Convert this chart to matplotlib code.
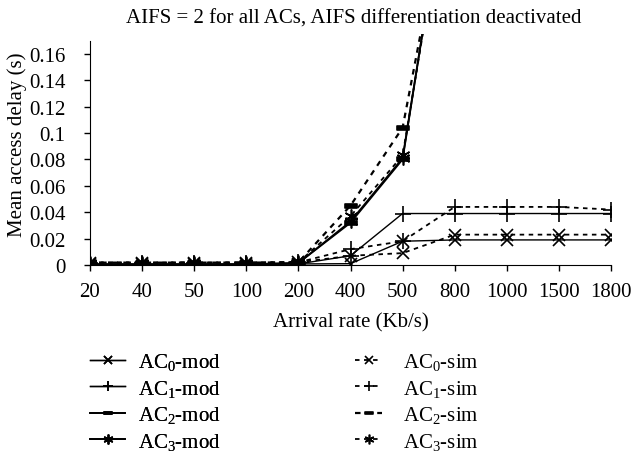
import numpy as np
import matplotlib
matplotlib.use("Agg")
import matplotlib.pyplot as plt
from matplotlib.path import Path

plt.rcParams['font.family'] = ['Liberation Serif', 'DejaVu Serif']
plt.rcParams['mathtext.fontset'] = 'custom'
plt.rcParams['mathtext.rm'] = 'Liberation Serif'
plt.rcParams['mathtext.it'] = 'Liberation Serif:italic'

# Arrival rates (categorical x axis)
rates = ['20', '40', '50', '100', '200', '400', '500', '800', '1000', '1500', '1800']

nan = np.nan
# model curves
ac0_mod = [0.0005, 0.0005, 0.0005, 0.0005, 0.0008, 0.001, 0.018, 0.019, 0.019, 0.019, 0.019]
ac1_mod = [0.0005, 0.0005, 0.0005, 0.0005, 0.0008, 0.007, 0.039, 0.039, 0.039, 0.039, 0.039]
ac2_mod = [0.0005, 0.0005, 0.0005, 0.0005, 0.0015, 0.032, 0.080, 0.33, nan, nan, nan]
ac3_mod = [0.0005, 0.0005, 0.0005, 0.0005, 0.0015, 0.033, 0.081, 0.33, nan, nan, nan]
# simulation curves
ac0_sim = [0.0018, 0.0018, 0.0018, 0.0018, 0.002, 0.007, 0.009, 0.023, 0.023, 0.023, 0.023]
ac1_sim = [0.0018, 0.0018, 0.0018, 0.0018, 0.002, 0.012, 0.018, 0.044, 0.044, 0.044, 0.042]
ac2_sim = [0.0018, 0.0018, 0.0018, 0.0018, 0.002, 0.045, 0.104, 0.31, nan, nan, nan]
ac3_sim = [0.0018, 0.0018, 0.0018, 0.0018, 0.002, 0.037, 0.083, 0.32, nan, nan, nan]

# small flat rectangle marker for AC2, asterisk for AC3
rect = Path([(-1, -0.3), (1, -0.3), (1, 0.3), (-1, 0.3), (-1, -0.3)],
            [Path.MOVETO, Path.LINETO, Path.LINETO, Path.LINETO, Path.CLOSEPOLY])
star = (6, 2, 0)

fig = plt.figure(figsize=(6.35, 4.56), dpi=100)
ax = fig.add_axes([90 / 635, 1 - 266 / 456, 521 / 635, 231 / 456])

fs = 15
mod_lines = []
sim_lines = []
for vals, mk, lab, lw, ms in [(ac0_mod, 'x', r'AC$_\mathrm{0}$-mod', 1.0, 9),
                              (ac1_mod, '+', r'AC$_\mathrm{1}$-mod', 1.0, 11),
                              (ac2_mod, rect, r'AC$_\mathrm{2}$-mod', 1.3, 9),
                              (ac3_mod, star, r'AC$_\mathrm{3}$-mod', 1.3, 10)]:
    l, = ax.plot(rates, vals, color='black', lw=lw, marker=mk, ms=ms,
                 mec='black', mfc='black', mew=1.2, label=lab)
    mod_lines.append(l)

for vals, mk, lab, lw, ms in [(ac0_sim, 'x', r'AC$_\mathrm{0}$-sim', 1.3, 9),
                              (ac1_sim, '+', r'AC$_\mathrm{1}$-sim', 1.3, 11),
                              (ac2_sim, rect, r'AC$_\mathrm{2}$-sim', 1.6, 9),
                              (ac3_sim, star, r'AC$_\mathrm{3}$-sim', 1.3, 10)]:
    l, = ax.plot(rates, vals, color='black', lw=lw, marker=mk, ms=ms,
                 mec='black', mfc='black', mew=1.2, dashes=(2.5, 2.5), label=lab)
    sim_lines.append(l)

ax.set_xlim(0, 10)
ax.set_ylim(0, 0.175)
ax.set_yticks(np.arange(0, 0.161, 0.02))
ax.set_yticklabels(['0', '0.02', '0.04', '0.06', '0.08', '0.1', '0.12', '0.14', '0.16'])
ax.spines['top'].set_visible(False)
ax.spines['right'].set_visible(False)
ax.spines['left'].set_bounds(0, 0.1695)
ax.tick_params(direction='out', length=4, width=1, labelsize=fs)
ax.tick_params(axis='x', pad=8.5)
ax.tick_params(axis='y', pad=13.5)
ax.patch.set_visible(False)

ax.set_ylabel('Mean access delay (s)', fontsize=fs)
ax.yaxis.set_label_coords(-0.120, 0.524)
ax.set_xlabel('Arrival rate (Kb/s)', fontsize=fs)
ax.xaxis.set_label_coords(0.5, -0.203)
fig.text(354 / 635, 1 - 19 / 456,
         'AIFS = 2 for all ACs, AIFS differentiation deactivated',
         ha='center', va='center', fontsize=fs)

leg1 = fig.legend(handles=mod_lines, loc='upper left',
                  bbox_to_anchor=(90 / 635, 1 - 352 / 456), frameon=False,
                  fontsize=fs, handlelength=1.68, markerscale=0.7,
                  labelspacing=0.265, handletextpad=0.62,
                  borderpad=0, borderaxespad=0)
leg2 = fig.legend(handles=sim_lines, loc='upper left',
                  bbox_to_anchor=(355 / 635, 1 - 352 / 456), frameon=False,
                  fontsize=fs, handlelength=1.3, markerscale=0.7,
                  labelspacing=0.265, handletextpad=1.0,
                  borderpad=0, borderaxespad=0)
fig.add_artist(leg1)

fig.savefig('out.png', dpi=100)
